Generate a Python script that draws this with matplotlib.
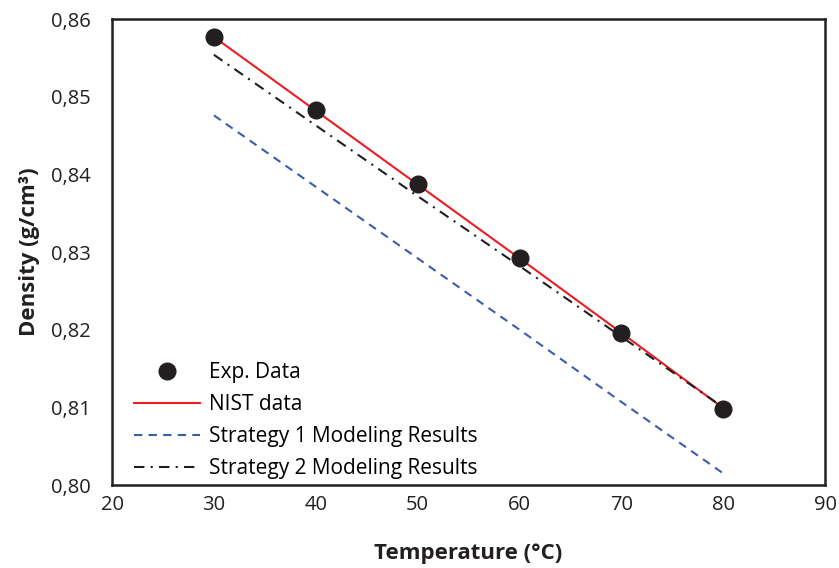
import matplotlib.pyplot as plt
from matplotlib.ticker import FuncFormatter

# Данные
temp = [30, 40, 50, 60, 70, 80]
exp_density = [0.8577, 0.8483, 0.8388, 0.8292, 0.8196, 0.8098]
nist_density = [0.8577, 0.8482, 0.8387, 0.8292, 0.8196, 0.8099]
strategy1 = [0.8476, 0.8384, 0.8292, 0.8200, 0.8107, 0.8015]
strategy2 = [0.8554, 0.8463, 0.8372, 0.8282, 0.8191, 0.8100]

x_ticks = [20, 30, 40, 50, 60, 70, 80, 90]
y_ticks = [0.80, 0.81, 0.82, 0.83, 0.84, 0.85, 0.86]

plt.rcParams['font.family'] = ['Open Sans', 'DejaVu Sans']

fig = plt.figure(figsize=(8.39, 5.68), dpi=100)
ax = fig.add_axes([0.1335, 0.146, 0.85, 0.8205])

ax.plot(temp, exp_density, 'o', color='#231f20', markersize=12, label='Exp. Data', zorder=5)
ax.plot(temp, nist_density, '-', color='#ed1c24', linewidth=1.5, label='NIST data')
ax.plot(temp, strategy1, '--', color='#3a5dae', linewidth=1.5, dashes=(4, 3), label='Strategy 1 Modeling Results')
ax.plot(temp, strategy2, '-.', color='#231f20', linewidth=1.5, dashes=(5, 3, 1, 3), label='Strategy 2 Modeling Results')

ax.set_xlim(20, 90)
ax.set_ylim(0.80, 0.86)
ax.set_xticks(x_ticks)
ax.set_yticks(y_ticks)
ax.yaxis.set_major_formatter(FuncFormatter(lambda v, p: f"{v:.2f}".replace('.', ',')))
ax.tick_params(length=0, labelsize=14.5, colors='#231f20')
ax.tick_params(axis='y', pad=15)
ax.tick_params(axis='x', pad=7)

for s in ax.spines.values():
    s.set_linewidth(1.8)
    s.set_color('#231f20')

ax.set_xlabel('Temperature (°C)', fontsize=16, fontweight='bold', color='#231f20', labelpad=20)
ax.set_ylabel('Density (g/cm³)', fontsize=16, fontweight='bold', color='#231f20', labelpad=8)

ax.legend(loc='lower left', bbox_to_anchor=(0.01, -0.018), frameon=False, fontsize=15,
          handlelength=3.2, handletextpad=0.4, labelspacing=0.52, borderaxespad=0.3)

fig.savefig('out.png', dpi=100)
